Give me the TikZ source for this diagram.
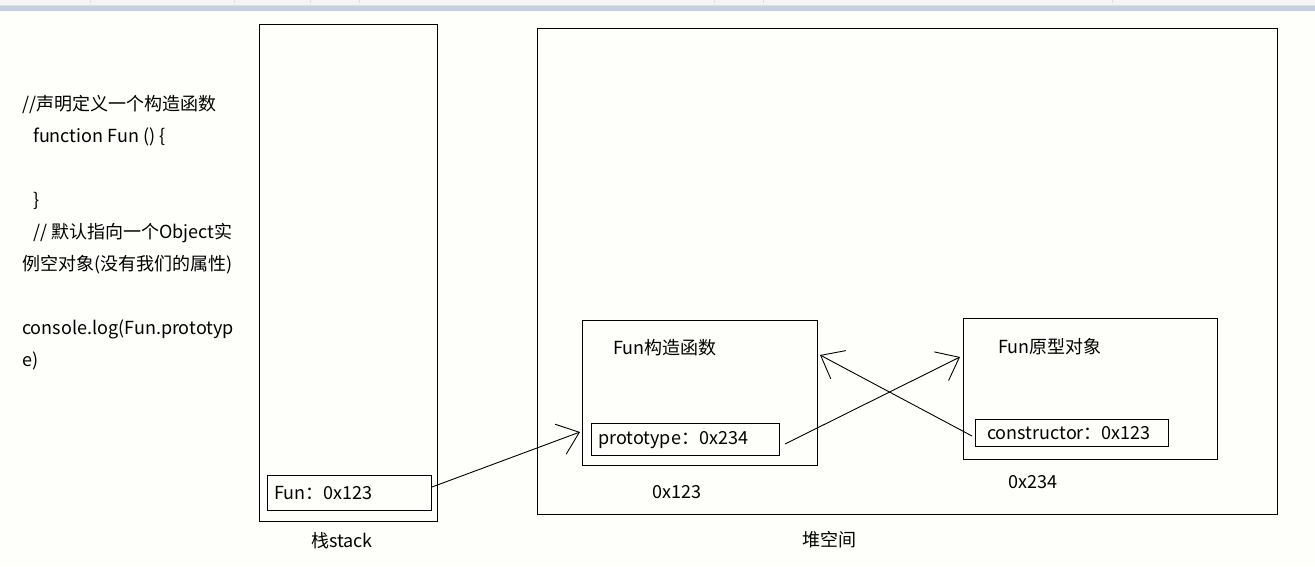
\documentclass[tikz,border=0pt]{standalone}
\usepackage{fontspec}
\setmainfont{Noto Sans CJK SC}
\usetikzlibrary{arrows.meta}
\definecolor{bgc}{RGB}{254,254,250}
\definecolor{barg}{RGB}{244,244,244}
\definecolor{barl}{RGB}{222,222,222}
\definecolor{barb}{RGB}{197,207,224}
\definecolor{tick}{RGB}{222,222,222}
\begin{document}
\begin{tikzpicture}[x=1pt,y=-1pt,
  box/.style={draw=black, line width=1pt, inner sep=0pt, outer sep=0pt, anchor=north west},
  txt/.style={inner sep=0pt, anchor=base west, font=\fontsize{18}{18}\selectfont},
  arr/.style={line width=0.9pt, -{Straight Barb[length=20pt,width=32pt,line width=0.9pt]}}]
\useasboundingbox (0,0) rectangle (1315,566);
\fill[bgc] (0,0) rectangle (1315,566);
% window strip
\fill[barg] (0,0) rectangle (1315,5);
\fill[barl] (0,4.5) rectangle (1315,5.5);
\fill[barb] (0,5.5) rectangle (1315,10.5);
\foreach \tx in {90,234,310,359,714,763,1112}
  \draw[tick, line width=0.7pt] (\tx,0) -- (\tx,3);

% code text
\node[txt] (c1) at (22,110) {//声明定义一个构造函数};
\node[txt] (c2) at (33,142) {function Fun () \{};
\node[txt] (c3) at (33,206) {\}};
\node[txt] (c4) at (33,238) {// 默认指向一个Object实};
\node[txt] (c5) at (22,270) {例空对象(没有我们的属性)};
\node[txt] (c6) at (22,334) {console.log(Fun.prototyp};
\node[txt] (c7) at (22,366) {e)};

% stack
\node[box, minimum width=178pt, minimum height=497pt] (stack) at (259,24) {};
\node[box, minimum width=164pt, minimum height=35pt] (funvar) at (267,475) {};
\node[txt] (funvart) at (274,499) {Fun：0x123};
\node[txt] (stackl) at (311,547) {栈stack};

% heap
\node[box, minimum width=740pt, minimum height=486pt] (heap) at (537,28) {};
\node[txt] (heapl) at (802,546) {堆空间};

\node[box, minimum width=235pt, minimum height=145pt] (ctor) at (582,320) {};
\node[txt] (ctort) at (613,354) {Fun构造函数};
\node[box, minimum width=188pt, minimum height=32pt] (proto) at (591,423) {};
\node[txt] (protot) at (598,444) {prototype：0x234};
\node[txt] (ctora) at (652,498) {0x123};

\node[box, minimum width=254pt, minimum height=141pt] (pobj) at (963,318) {};
\node[txt] (pobjt) at (998,353) {Fun原型对象};
\node[box, minimum width=193pt, minimum height=27pt] (cons) at (975,419) {};
\node[txt] (const) at (987,439) {constructor：0x123};
\node[txt] (pobja) at (1008,488) {0x234};

% connector end points
\coordinate (a1s) at (432,487);
\coordinate (a1e) at (580,432);
\coordinate (a2s) at (785,444);
\coordinate (a2e) at (960,357);
\coordinate (a3s) at (972,436);
\coordinate (a3e) at (820,355);

\draw[arr] (a1s) -- (a1e);
\draw[arr] (a2s) -- (a2e);
\draw[arr] (a3s) -- (a3e);
\end{tikzpicture}
\end{document}
